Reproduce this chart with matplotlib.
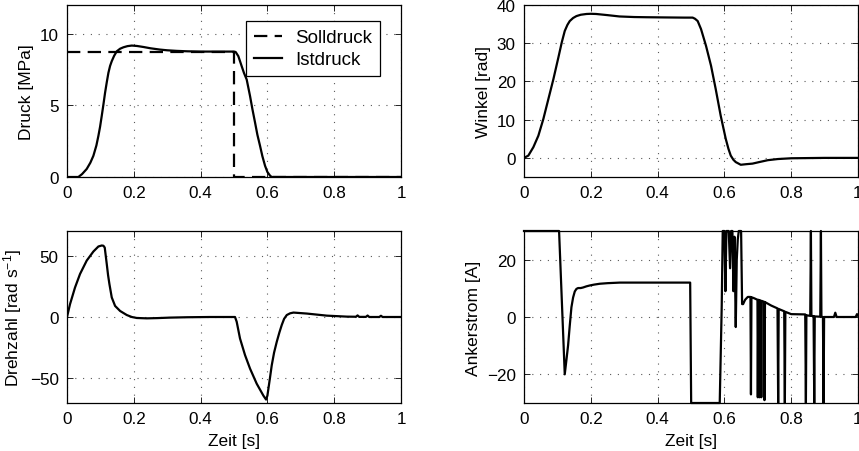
import matplotlib
matplotlib.use("Agg")
import matplotlib.pyplot as plt

plt.rcParams['font.family'] = ['Liberation Sans', 'DejaVu Sans']
plt.rcParams['mathtext.fontset'] = 'custom'
plt.rcParams['mathtext.rm'] = 'Liberation Sans'
plt.rcParams['mathtext.it'] = 'Liberation Sans:italic'
plt.rcParams['font.size'] = 12.3

# ---- Druck (pressure) ----
t_druck = [0, 0.034, 0.045, 0.059, 0.070, 0.079, 0.088, 0.094, 0.099, 0.104, 0.109,
           0.114, 0.119, 0.124, 0.129, 0.134, 0.141, 0.149, 0.159, 0.169, 0.181, 0.194,
           0.21, 0.229, 0.25, 0.278, 0.30, 0.328, 0.36, 0.40, 0.45, 0.50, 0.505, 0.513,
           0.523, 0.530, 0.538, 0.548, 0.555, 0.563, 0.570, 0.578, 0.585, 0.593, 0.600,
           0.608, 0.613, 1.0]
p_ist = [0, 0, 0.2, 0.56, 1.0, 1.48, 2.2, 2.87, 3.5, 4.26, 5.05,
         5.88, 6.6, 7.27, 7.75, 8.08, 8.45, 8.77, 8.95, 9.05, 9.13, 9.17,
         9.14, 9.07, 8.98, 8.89, 8.84, 8.8, 8.77, 8.75, 8.75, 8.75, 8.72, 8.43,
         7.73, 7.25, 6.8, 5.65, 4.75, 3.8, 2.95, 2.17, 1.45, 0.78, 0.35,
         0.09, 0, 0]
t_soll = [0, 0.5, 0.5, 1.0]
p_soll = [8.75, 8.75, 0, 0]

# ---- Winkel (angle) ----
t_winkel = [0, 0.013, 0.028, 0.043, 0.058, 0.073, 0.088, 0.103, 0.113, 0.122, 0.130,
            0.137, 0.147, 0.157, 0.170, 0.187, 0.20, 0.216, 0.25, 0.286, 0.33, 0.366,
            0.42, 0.48, 0.505, 0.512, 0.52, 0.53, 0.545, 0.56, 0.574, 0.589, 0.604,
            0.612, 0.619, 0.627, 0.634, 0.649, 0.665, 0.684, 0.704, 0.73, 0.76, 0.80,
            0.85, 0.9, 1.0]
winkel = [0, 0.6, 2.8, 5.8, 10.2, 15.4, 20.6, 26.3, 30.2, 33.2, 34.8,
          35.8, 36.6, 37.1, 37.45, 37.65, 37.7, 37.65, 37.35, 37.0, 36.85, 36.8,
          36.75, 36.7, 36.7, 36.4, 35.8, 33.7, 29.3, 24.1, 18.0, 11.0, 5.0,
          2.4, 0.6, -0.5, -1.1, -1.8, -1.65, -1.5, -1.1, -0.6, -0.3, -0.1,
          -0.05, 0, 0]

# ---- Drehzahl (speed) ----
t_drehzahl = [0, 0.009, 0.024, 0.039, 0.059, 0.079, 0.094, 0.104, 0.109, 0.113, 0.119,
              0.123, 0.127, 0.134, 0.144, 0.159, 0.179, 0.194, 0.209, 0.239, 0.27,
              0.308, 0.36, 0.428, 0.503, 0.508, 0.518, 0.533, 0.548, 0.568, 0.588,
              0.596, 0.600, 0.603, 0.608, 0.613, 0.620, 0.628, 0.636, 0.643, 0.650,
              0.658, 0.668, 0.678, 0.718, 0.778, 0.838, 0.865, 0.870, 0.875, 0.895,
              0.900, 0.905, 0.935, 0.940, 0.945, 1.0]
drehzahl = [0, 10.4, 24, 35, 45.9, 53.3, 57.4, 58.2, 58.0, 56.5, 43.2,
            34, 26.8, 15.9, 9, 4.9, 1.6, 0, -0.8, -1.1, -0.9,
            -0.5, -0.2, 0, 0, -3.8, -17.5, -31, -42, -54.3, -64,
            -67.2, -64, -58.4, -49, -39.3, -29, -20.2, -12.5, -6.5, -1.5,
            1.6, 3.0, 3.6, 2.8, 1.1, 0.3, 0.2, 1.3, 0.1, 0.1,
            1.2, 0.0, 0, 1.0, 0, 0]

# ---- Ankerstrom (armature current) ----
t_strom = [0, 0.105, 0.122, 0.127, 0.132, 0.137, 0.142, 0.147, 0.152, 0.157, 0.162,
           0.170, 0.177, 0.187, 0.197, 0.21, 0.227, 0.25, 0.287, 0.35, 0.4975, 0.5005,
           0.586, 0.592, 0.595, 0.600, 0.603, 0.606, 0.609, 0.613, 0.617, 0.620,
           0.624, 0.627, 0.630, 0.634, 0.637, 0.640, 0.643, 0.647, 0.650, 0.653,
           0.656, 0.662, 0.670, 0.678, 0.6795, 0.681, 0.690, 0.699, 0.700, 0.7015,
           0.704, 0.705, 0.7065, 0.709, 0.7105, 0.712, 0.719, 0.720, 0.7215, 0.74,
           0.759, 0.761, 0.7625, 0.779, 0.781, 0.7825, 0.80, 0.842, 0.844, 0.8455,
           0.857, 0.859, 0.8605, 0.867, 0.869, 0.8705, 0.887, 0.889, 0.8905, 0.895,
           0.897, 0.8985, 0.928, 0.932, 0.936, 0.993, 0.997, 1.0]
strom = [30, 30, -20, -15, -9.9, -3, 3.4, 6.8, 8.9, 9.8, 10.1,
         10.1, 10.3, 10.7, 11.0, 11.3, 11.6, 11.8, 12.0, 12.0, 12.0, -30,
         -30, 4, 30, 30, 9, 30, 30, 30, 17, 30,
         30, 9, 28, -3.5, 20, 27, 30, 30, 30, 4.5,
         4.5, 6.0, 7.0, 7.0, -27, 6.9, 6.5, 6.0, -28, 6.0,
         5.9, -28, 5.8, 5.7, -28, 5.6, 5.3, -29, 5.2, 4.0,
         3.0, -30, 2.8, 2.0, -30, 1.8, 1.0, 0.9, -30, 0.6,
         0.4, 30, 0.4, 0.3, -30, 0.2, 0.1, 30, 0.1, 0,
         -30, 0, 0, 1.5, 0, 0, 1.0, 0.5]

x_ticks = [0, 0.2, 0.4, 0.6, 0.8, 1.0]
x_ticklabels = ['0', '0.2', '0.4', '0.6', '0.8', '1']

LW = 1.6

fig = plt.figure(figsize=(8.59, 4.52), dpi=100)
left_l, left_r = 67 / 859, 524 / 859
width = 334 / 859
bottom_t, bottom_b = 1 - 178 / 452, 1 - 404 / 452
height = 172 / 452

ax_p = fig.add_axes([left_l, bottom_t, width, height])
ax_w = fig.add_axes([left_r, bottom_t, width, height])
ax_n = fig.add_axes([left_l, bottom_b, width, height])
ax_i = fig.add_axes([left_r, bottom_b, width, height])


def style(ax, ylim, yticks, ylabel, xlabel=None):
    ax.set_xlim(0, 1)
    ax.set_ylim(*ylim)
    ax.set_xticks(x_ticks)
    ax.set_xticklabels(x_ticklabels)
    ax.set_yticks(yticks)
    ax.tick_params(direction='in', top=True, right=True, length=4, width=0.6,
                   pad=6, labelsize=12.3)
    ax.grid(True, color='0.35', linestyle=(0, (1, 6)), linewidth=0.8)
    for s in ax.spines.values():
        s.set_linewidth(0.9)
        s.set_color('black')
    ax.set_ylabel(ylabel, fontsize=12.5, labelpad=4)
    if xlabel:
        ax.set_xlabel(xlabel, fontsize=12.5, labelpad=5)


ax_p.plot(t_soll, p_soll, color='black', linewidth=LW, linestyle=(0, (6, 3.3)),
          label='Solldruck')
ax_p.plot(t_druck, p_ist, color='black', linewidth=LW, label='Istdruck')
style(ax_p, (0, 12), [0, 5, 10], 'Druck [MPa]')
leg = ax_p.legend(loc='upper right', bbox_to_anchor=(0.937, 0.905), borderaxespad=0,
                  fancybox=False, edgecolor='black', framealpha=1, fontsize=13.5,
                  handlelength=1.5, handletextpad=0.7, borderpad=0.42, labelspacing=0.25)
leg.get_frame().set_linewidth(0.9)

ax_w.plot(t_winkel, winkel, color='black', linewidth=LW)
style(ax_w, (-5, 40), [0, 10, 20, 30, 40], 'Winkel [rad]')

ax_n.plot(t_drehzahl, drehzahl, color='black', linewidth=LW)
style(ax_n, (-70, 70), [-50, 0, 50], 'Drehzahl [rad s$^{-1}$]', 'Zeit [s]')

ax_i.plot(t_strom, strom, color='black', linewidth=LW, clip_on=False)
style(ax_i, (-30, 30), [-20, 0, 20], 'Ankerstrom [A]', 'Zeit [s]')

fig.savefig('out.png', dpi=100)
